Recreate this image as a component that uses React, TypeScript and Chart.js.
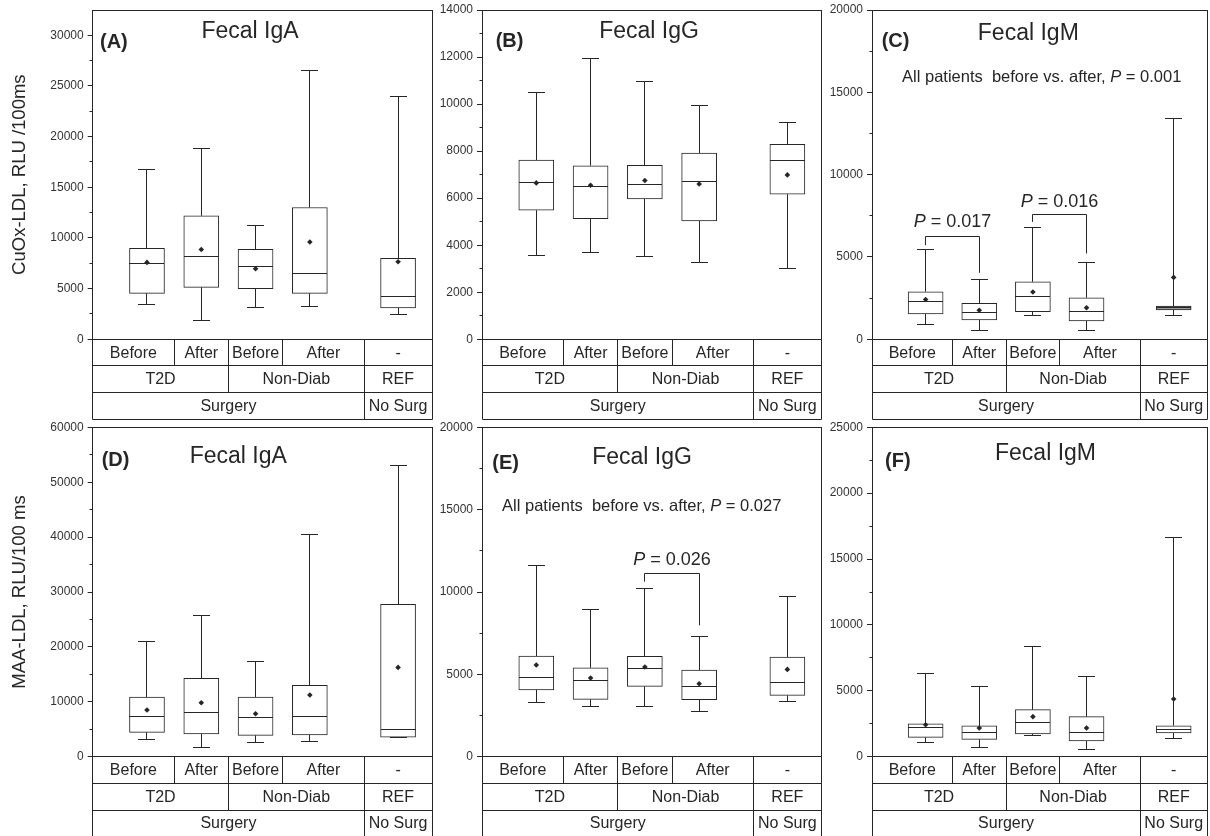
import React, { useEffect, useRef } from 'react';
import { Chart, registerables } from 'chart.js';

Chart.register(...registerables);

// ---------- shared categories ----------
const treatmentLabels = ['Before', 'After', 'Before', 'After', '-'];
const groupLabels = ['T2D', 'Non-Diab', 'REF'];
const surgeryLabels = ['Surgery', 'No Surg'];
const boxPositions = [1, 2, 3, 4, 5.625];
const treatmentSpans = [1.5, 1, 1, 1.5, 1.25];
const groupSpans = [2.5, 2.5, 1.25];
const surgerySpans = [5, 1.25];

// ---------- (A) CuOx-LDL, fecal IgA ----------
const A_low = [3450, 1840, 3090, 3220, 2430];
const A_q1 = [4535, 5130, 4995, 4535, 3090];
const A_median = [7490, 8150, 7230, 6510, 4270];
const A_q3 = [8970, 12190, 8870, 13010, 7990];
const A_high = [16760, 18830, 11200, 26520, 23960];
const A_mean = [7590, 8870, 6970, 9600, 7660];

// ---------- (B) CuOx-LDL, fecal IgG ----------
const B_low = [3550, 3690, 3540, 3250, 3010];
const B_q1 = [5490, 5130, 5970, 5030, 6170];
const B_median = [6650, 6480, 6600, 6720, 7590];
const B_q3 = [7620, 7380, 7400, 7920, 8290];
const B_high = [10480, 11950, 10950, 9930, 9210];
const B_mean = [6650, 6550, 6750, 6600, 6990];

// ---------- (C) CuOx-LDL, fecal IgM ----------
const C_low = [870, 525, 1475, 505, 1455];
const C_q1 = [1540, 1170, 1680, 1110, 1780];
const C_median = [2280, 1640, 2610, 1660, 1920];
const C_q3 = [2890, 2180, 3490, 2525, 2020];
const C_high = [5450, 3660, 6790, 4650, 13390];
const C_mean = [2420, 1760, 2870, 1920, 3760];

// ---------- (D) MAA-LDL, fecal IgA ----------
const D_low = [3220, 1700, 2670, 2790, 3580];
const D_q1 = [4430, 4130, 3890, 3950, 3580];
const D_median = [7410, 8080, 7230, 7290, 4920];
const D_q3 = [10870, 14270, 10870, 12990, 27750];
const D_high = [21010, 25810, 17370, 40440, 53010];
const D_mean = [8500, 9840, 7830, 11230, 16270];

// ---------- (E) MAA-LDL, fecal IgG ----------
const E_low = [3300, 3060, 3060, 2730, 3360];
const E_q1 = [4050, 3480, 4270, 3460, 3720];
const E_median = [4820, 4640, 5380, 4270, 4490];
const E_q3 = [6110, 5400, 6090, 5260, 6050];
const E_high = [11620, 8930, 10240, 7310, 9720];
const E_mean = [5570, 4780, 5450, 4430, 5300];

// ---------- (F) MAA-LDL, fecal IgM ----------
const F_low = [1040, 680, 1590, 580, 1390];
const F_q1 = [1470, 1320, 1720, 1190, 1800];
const F_median = [2200, 1870, 2580, 1820, 2070];
const F_q3 = [2500, 2350, 3570, 3040, 2350];
const F_high = [6280, 5360, 8380, 6120, 16650];
const F_mean = [2430, 2180, 3040, 2180, 4380];

// ---------- style constants ----------
const FONT = '"Liberation Sans", Arial, Helvetica, sans-serif';
const INK = '#262626';
const X_MAX = 6.25;
const BOX_PX = 35;
const CAP_PX = 17;
const ROW_PX = 26.67;

type Part = [string, boolean];
interface Stats { low: number[]; q1: number[]; median: number[]; q3: number[]; high: number[]; mean: number[]; }
interface Bracket { from: number; to: number; y: number; leftEnd: number; rightEnd: number; p: string; labelY: number; }
interface Note { parts: Part[]; x: number; yValue: number; }
interface PanelDef {
  letter: string; title: string; yTitle?: string;
  yMax: number; step: number; minor: number;
  canvas: { left: number; top: number; width: number; height: number };
  plot: { left: number; right: number; top: number; bottom: number };
  titlePos: [number, number]; letterPos: [number, number];
  stats: Stats; notes: Note[]; brackets: Bracket[];
}

const TOP = { canvasTop: 0, canvasH: 421, plotTop: 9.3, plotBottom: 339.3 };
const BOT = { canvasTop: 410, canvasH: 426, plotTop: 427.3, plotBottom: 756.7 };
const COL1 = { canvasLeft: 0, canvasW: 436, plotLeft: 92.7, plotRight: 432 };
const COL2 = { canvasLeft: 436, canvasW: 390, plotLeft: 482, plotRight: 821.3 };
const COL3 = { canvasLeft: 826, canvasW: 384, plotLeft: 872, plotRight: 1209 };

function frame(row: typeof TOP, col: typeof COL1) {
  return {
    canvas: { left: col.canvasLeft, top: row.canvasTop, width: col.canvasW, height: row.canvasH },
    plot: { left: col.plotLeft, right: col.plotRight, top: row.plotTop, bottom: row.plotBottom },
  };
}

const allPatients = (p: string): Part[] => [['All patients  before vs. after, ', false], ['P', true], [' = ' + p, false]];

const panels: PanelDef[] = [
  {
    letter: '(A)', title: 'Fecal IgA', yTitle: 'CuOx-LDL, RLU /100ms', yMax: 32500, step: 5000, minor: 2500,
    ...frame(TOP, COL1), titlePos: [250, 31.7], letterPos: [100, 42.3],
    stats: { low: A_low, q1: A_q1, median: A_median, q3: A_q3, high: A_high, mean: A_mean },
    notes: [], brackets: [],
  },
  {
    letter: '(B)', title: 'Fecal IgG', yMax: 14000, step: 2000, minor: 1000,
    ...frame(TOP, COL2), titlePos: [649, 31.7], letterPos: [495.7, 41.7],
    stats: { low: B_low, q1: B_q1, median: B_median, q3: B_q3, high: B_high, mean: B_mean },
    notes: [], brackets: [],
  },
  {
    letter: '(C)', title: 'Fecal IgM', yMax: 20000, step: 5000, minor: 2500,
    ...frame(TOP, COL3), titlePos: [1028.3, 33.3], letterPos: [881.7, 41.7],
    stats: { low: C_low, q1: C_q1, median: C_median, q3: C_q3, high: C_high, mean: C_mean },
    notes: [{ parts: allPatients('0.001'), x: 1041.7, yValue: 15880 }],
    brackets: [
      { from: 0, to: 1, y: 6262, leftEnd: 5717, rightEnd: 4040, p: '0.017', labelY: 7131 },
      { from: 2, to: 3, y: 7576, leftEnd: 7131, rightEnd: 5212, p: '0.016', labelY: 8343 },
    ],
  },
  {
    letter: '(D)', title: 'Fecal IgA', yTitle: 'MAA-LDL, RLU/100 ms', yMax: 60000, step: 10000, minor: 5000,
    ...frame(BOT, COL1), titlePos: [238.3, 456.7], letterPos: [101.7, 460.7],
    stats: { low: D_low, q1: D_q1, median: D_median, q3: D_q3, high: D_high, mean: D_mean },
    notes: [], brackets: [],
  },
  {
    letter: '(E)', title: 'Fecal IgG', yMax: 20000, step: 5000, minor: 2500,
    ...frame(BOT, COL2), titlePos: [642, 457.3], letterPos: [492.3, 463.3],
    stats: { low: E_low, q1: E_q1, median: E_median, q3: E_q3, high: E_high, mean: E_mean },
    notes: [{ parts: allPatients('0.027'), x: 641.7, yValue: 15182 }],
    brackets: [{ from: 2, to: 3, y: 11113, leftEnd: 10628, rightEnd: 7976, p: '0.026', labelY: 11943 }],
  },
  {
    letter: '(F)', title: 'Fecal IgM', yMax: 25000, step: 5000, minor: 2500,
    ...frame(BOT, COL3), titlePos: [1045.5, 453.3], letterPos: [885, 461.7],
    stats: { low: F_low, q1: F_q1, median: F_median, q3: F_q3, high: F_high, mean: F_mean },
    notes: [], brackets: [],
  },
];

const al = (v: number) => Math.round(v - 0.5) + 0.5;

function drawRich(ctx: CanvasRenderingContext2D, parts: Part[], cx: number, cy: number, size: number) {
  const fonts = parts.map(([, it]) => `${it ? 'italic ' : ''}${size}px ${FONT}`);
  const widths = parts.map(([t], i) => { ctx.font = fonts[i]; return ctx.measureText(t).width; });
  let x = cx - widths.reduce((a, b) => a + b, 0) / 2;
  ctx.textAlign = 'left';
  ctx.textBaseline = 'middle';
  parts.forEach(([t], i) => { ctx.font = fonts[i]; ctx.fillText(t, x, cy); x += widths[i]; });
}

function makePlugin(p: PanelDef) {
  return {
    id: 'boxPanel',
    afterDatasetDraw(chart: any, args: any) {
      if (args.index !== 0) return;
      const { ctx } = chart;
      const xs = chart.scales.x, ys = chart.scales.y;
      const s = p.stats;
      ctx.save();
      ctx.strokeStyle = INK;
      ctx.lineWidth = 1;
      ctx.beginPath();
      boxPositions.forEach((pos, i) => {
        const cx = al(xs.getPixelForValue(pos));
        const yHi = al(ys.getPixelForValue(s.high[i]));
        const yQ3 = ys.getPixelForValue(s.q3[i]);
        const yQ1 = ys.getPixelForValue(s.q1[i]);
        const yLo = al(ys.getPixelForValue(s.low[i]));
        const yMed = al(ys.getPixelForValue(s.median[i]));
        ctx.moveTo(cx, yQ3); ctx.lineTo(cx, yHi);
        ctx.moveTo(cx - CAP_PX / 2, yHi); ctx.lineTo(cx + CAP_PX / 2, yHi);
        ctx.moveTo(cx, yQ1); ctx.lineTo(cx, yLo);
        ctx.moveTo(cx - CAP_PX / 2, yLo); ctx.lineTo(cx + CAP_PX / 2, yLo);
        ctx.moveTo(cx - BOX_PX / 2, yMed); ctx.lineTo(cx + BOX_PX / 2, yMed);
      });
      ctx.stroke();
      ctx.restore();
    },
    afterDraw(chart: any) {
      const { ctx, chartArea: ca } = chart;
      const xs = chart.scales.x, ys = chart.scales.y;
      const offX = p.canvas.left, offY = p.canvas.top;
      const L = al(ca.left), R = al(ca.right), T = al(ca.top), B = al(ca.bottom);
      ctx.save();
      ctx.strokeStyle = INK;
      ctx.fillStyle = INK;
      ctx.lineWidth = 1;
      // frame
      ctx.strokeRect(L, T, R - L, B - T);
      // minor ticks
      ctx.beginPath();
      for (let v = p.minor; v < p.yMax; v += p.minor) {
        if (v % p.step === 0) continue;
        const yy = al(ys.getPixelForValue(v));
        ctx.moveTo(L - 3, yy); ctx.lineTo(L, yy);
      }
      ctx.stroke();
      // category table
      const rows = [
        { labels: treatmentLabels, spans: treatmentSpans },
        { labels: groupLabels, spans: groupSpans },
        { labels: surgeryLabels, spans: surgerySpans },
      ];
      ctx.font = `16px ${FONT}`;
      ctx.textAlign = 'center';
      ctx.textBaseline = 'middle';
      ctx.beginPath();
      rows.forEach((row, r) => {
        const yTop = ca.bottom + r * ROW_PX;
        const yBot = ca.bottom + (r + 1) * ROW_PX;
        ctx.moveTo(L, al(yBot)); ctx.lineTo(R, al(yBot));
        let u = 0;
        row.labels.forEach((lab, i) => {
          const u1 = u + row.spans[i];
          const x0 = xs.getPixelForValue(u), x1 = xs.getPixelForValue(u1);
          if (i < row.labels.length - 1) {
            ctx.moveTo(al(x1), al(yTop)); ctx.lineTo(al(x1), al(yBot));
          }
          ctx.fillText(lab, (x0 + x1) / 2, (yTop + yBot) / 2 + 0.5);
          u = u1;
        });
      });
      const tableBottom = al(ca.bottom + 3 * ROW_PX);
      ctx.moveTo(L, B); ctx.lineTo(L, tableBottom);
      ctx.moveTo(R, B); ctx.lineTo(R, tableBottom);
      ctx.stroke();
      // title and panel letter
      ctx.font = `23px ${FONT}`;
      ctx.textAlign = 'center';
      ctx.fillText(p.title, p.titlePos[0] - offX, p.titlePos[1] - offY);
      ctx.font = `bold 20px ${FONT}`;
      ctx.textAlign = 'left';
      ctx.fillText(p.letter, p.letterPos[0] - offX, p.letterPos[1] - offY);
      // notes
      p.notes.forEach((n) => drawRich(ctx, n.parts, n.x - offX, ys.getPixelForValue(n.yValue), 16.5));
      // brackets
      p.brackets.forEach((b) => {
        const x0 = al(xs.getPixelForValue(boxPositions[b.from]));
        const x1 = al(xs.getPixelForValue(boxPositions[b.to]));
        const yb = al(ys.getPixelForValue(b.y));
        ctx.beginPath();
        ctx.moveTo(x0, ys.getPixelForValue(b.leftEnd)); ctx.lineTo(x0, yb);
        ctx.lineTo(x1, yb); ctx.lineTo(x1, ys.getPixelForValue(b.rightEnd));
        ctx.stroke();
        drawRich(ctx, [['P', true], [' = ' + b.p, false]], (x0 + x1) / 2, ys.getPixelForValue(b.labelY), 18);
      });
      ctx.restore();
    },
  };
}

function makeConfig(p: PanelDef): any {
  const padLeft = 4;
  const axisWidth = p.plot.left - p.canvas.left - padLeft;
  const plotH = p.plot.bottom - p.plot.top;
  const s = p.stats;
  const fills = s.q1.map((q, i) => ((s.q3[i] - q) / p.yMax) * plotH < 6 ? '#9a9a9a' : '#ffffff');
  return {
    type: 'bar',
    data: {
      datasets: [
        {
          type: 'bar',
          data: boxPositions.map((x, i) => ({ x, y: [s.q1[i], s.q3[i]] })),
          backgroundColor: fills,
          borderColor: INK,
          borderWidth: 1,
          borderSkipped: false,
          barThickness: BOX_PX,
          grouped: false,
          order: 0,
        },
        {
          type: 'scatter',
          data: boxPositions.map((x, i) => ({ x, y: s.mean[i] })),
          pointStyle: 'rectRot',
          pointRadius: 2.8,
          pointHoverRadius: 2.8,
          backgroundColor: INK,
          borderColor: INK,
          borderWidth: 0,
          showLine: false,
          order: -1,
        },
      ],
    },
    options: {
      animation: false,
      responsive: false,
      events: [],
      layout: {
        padding: {
          left: padLeft,
          right: p.canvas.left + p.canvas.width - p.plot.right,
          top: p.plot.top - p.canvas.top,
          bottom: p.canvas.top + p.canvas.height - p.plot.bottom,
        },
      },
      plugins: { legend: { display: false }, tooltip: { enabled: false }, title: { display: false } },
      scales: {
        x: { type: 'linear', display: false, min: 0, max: X_MAX, offset: false },
        y: {
          type: 'linear',
          min: 0,
          max: p.yMax,
          afterFit: (scale: any) => { scale.width = axisWidth; },
          afterBuildTicks: (scale: any) => {
            const ticks: { value: number }[] = [];
            for (let v = 0; v <= p.yMax; v += p.step) ticks.push({ value: v });
            scale.ticks = ticks;
          },
          ticks: {
            stepSize: p.step,
            autoSkip: false,
            padding: 4,
            color: '#333',
            font: { family: FONT, size: 12, lineHeight: 1 },
            callback: (v: any) => String(v),
          },
          grid: { drawOnChartArea: false, drawTicks: true, tickLength: 5, color: INK, lineWidth: 1 },
          border: { display: true, color: INK, width: 1 },
          title: {
            display: !!p.yTitle,
            text: p.yTitle || '',
            color: INK,
            padding: { top: 5, bottom: 0 },
            font: { family: FONT, size: 18.5 },
          },
        },
      },
    },
    plugins: [makePlugin(p)],
  };
}

function Panel({ p }: { p: PanelDef }) {
  const ref = useRef<HTMLCanvasElement>(null);
  useEffect(() => {
    if (!ref.current) return;
    const chart = new Chart(ref.current, makeConfig(p));
    return () => chart.destroy();
  }, [p]);
  return (
    <canvas
      ref={ref}
      width={p.canvas.width}
      height={p.canvas.height}
      style={{
        position: 'absolute',
        left: p.canvas.left,
        top: p.canvas.top,
        width: p.canvas.width,
        height: p.canvas.height,
      }}
    />
  );
}

export default function App() {
  return (
    <div
      style={{
        position: 'absolute',
        left: 0,
        top: 0,
        width: 1210,
        height: 836,
        background: '#ffffff',
        overflow: 'hidden',
      }}
    >
      {panels.map((p) => (
        <Panel key={p.letter} p={p} />
      ))}
    </div>
  );
}
